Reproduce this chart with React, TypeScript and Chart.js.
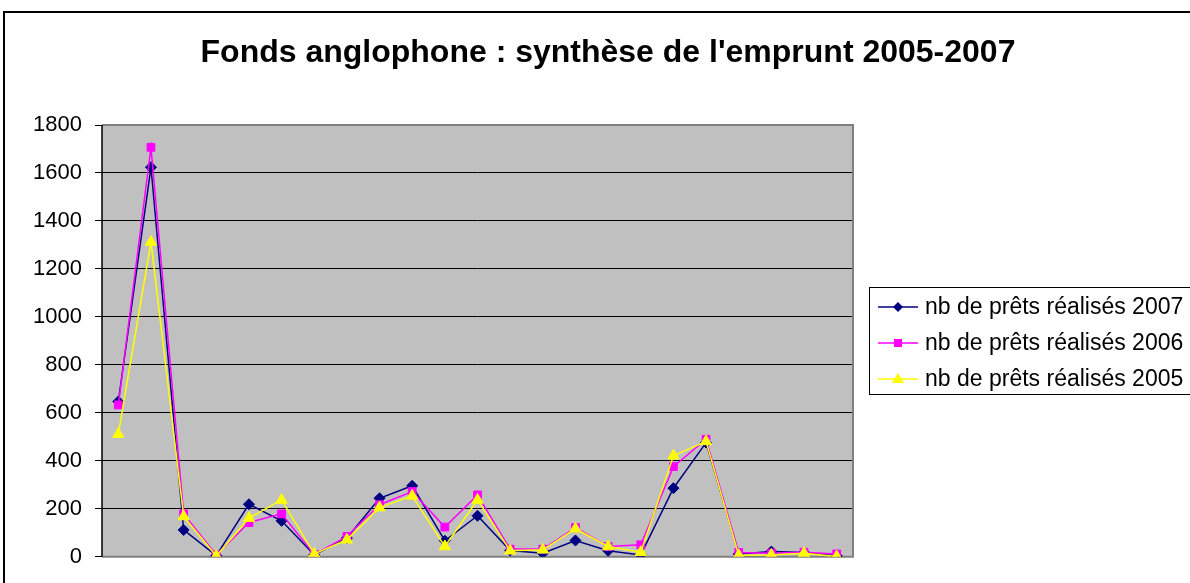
import React, { useEffect, useRef } from "react";
import { Chart, registerables } from "chart.js";

Chart.register(...registerables);

const TITLE = "Fonds anglophone : synthèse de l'emprunt 2005-2007";
const categories = Array.from({ length: 23 }, (_, i) => String(i + 1));
const labels2007 = "nb de prêts réalisés 2007";
const labels2006 = "nb de prêts réalisés 2006";
const labels2005 = "nb de prêts réalisés 2005";
const values2007 = [647, 1624, 112, 5, 219, 150, 8, 78, 244, 296, 67, 171, 26, 15, 68, 25, 8, 286, 476, 12, 22, 18, 4];
const values2006 = [633, 1707, 179, 8, 143, 179, 10, 85, 217, 272, 124, 258, 32, 32, 122, 43, 50, 376, 490, 18, 15, 19, 12];
const values2005 = [511, 1312, 168, 3, 161, 237, 12, 71, 205, 254, 43, 237, 25, 29, 117, 43, 19, 421, 481, 6, 8, 15, 1];
const yTicks = [0, 200, 400, 600, 800, 1000, 1200, 1400, 1600, 1800];

const FONT = "'Liberation Sans', Arial, sans-serif";

const decorPlugin = {
  id: "decor",
  beforeDraw(chart: any) {
    const { ctx, chartArea: a } = chart;
    ctx.save();
    ctx.fillStyle = "#ffffff";
    ctx.fillRect(0, 0, chart.width, chart.height);
    ctx.fillStyle = "#C0C0C0";
    ctx.fillRect(a.left, a.top, a.right - a.left, a.bottom - a.top);
    ctx.strokeStyle = "#000000";
    ctx.lineWidth = 2;
    ctx.strokeRect(4, 12, 1400, 800);
    ctx.restore();
  },
  beforeDatasetsDraw(chart: any) {
    const { ctx, chartArea: a } = chart;
    ctx.save();
    ctx.strokeStyle = "#808080";
    ctx.lineWidth = 2;
    ctx.beginPath();
    ctx.moveTo(a.left, a.top);
    ctx.lineTo(a.right, a.top);
    ctx.lineTo(a.right, a.bottom);
    ctx.lineTo(a.left, a.bottom);
    ctx.stroke();
    ctx.strokeStyle = "#000000";
    ctx.lineWidth = 1.5;
    ctx.beginPath();
    ctx.moveTo(a.left, a.top);
    ctx.lineTo(a.left, a.bottom);
    ctx.stroke();
    ctx.restore();
  },
  afterDraw(chart: any) {
    const { ctx } = chart;
    ctx.save();
    ctx.fillStyle = "#000";
    ctx.font = `bold 32px ${FONT}`;
    ctx.textAlign = "center";
    ctx.textBaseline = "middle";
    ctx.fillText(TITLE, 608, 53);
    ctx.strokeStyle = "#000";
    ctx.lineWidth = 1;
    ctx.strokeRect(869.5, 287.5, 400, 107);
    const ys = [307, 343, 379];
    chart.data.datasets.forEach((ds: any, i: number) => {
      const y = ys[i];
      ctx.strokeStyle = ds.borderColor;
      ctx.lineWidth = 1.5;
      ctx.beginPath();
      ctx.moveTo(878, y);
      ctx.lineTo(918, y);
      ctx.stroke();
      ctx.fillStyle = ds.backgroundColor;
      ctx.beginPath();
      if (ds.pointStyle === "rectRot") {
        ctx.moveTo(898, y - 5);
        ctx.lineTo(903, y);
        ctx.lineTo(898, y + 5);
        ctx.lineTo(893, y);
      } else if (ds.pointStyle === "rect") {
        ctx.rect(894, y - 4, 8, 8);
      } else {
        ctx.moveTo(898, y - 6);
        ctx.lineTo(904, y + 4);
        ctx.lineTo(892, y + 4);
      }
      ctx.closePath();
      ctx.fill();
      ctx.fillStyle = "#000";
      ctx.font = `23px ${FONT}`;
      ctx.textAlign = "left";
      ctx.textBaseline = "middle";
      ctx.fillText(ds.label, 925, y + 1);
    });
    ctx.restore();
  },
};

export default function App() {
  const ref = useRef<HTMLCanvasElement>(null);
  useEffect(() => {
    document.body.style.margin = "0";
    const chart = new Chart(ref.current!, {
      type: "line",
      data: {
        labels: categories,
        datasets: [
          {
            label: labels2007,
            data: values2007,
            borderColor: "#000080",
            backgroundColor: "#000080",
            pointStyle: "rectRot",
            pointRadius: 5.5,
            pointBorderWidth: 1,
            borderWidth: 1.5,
            order: 2,
          },
          {
            label: labels2006,
            data: values2006,
            borderColor: "#FF00FF",
            backgroundColor: "#FF00FF",
            pointStyle: "rect",
            pointRadius: 5.5,
            pointBorderWidth: 1,
            borderWidth: 1.5,
            order: 1,
          },
          {
            label: labels2005,
            data: values2005,
            borderColor: "#FFFF00",
            backgroundColor: "#FFFF00",
            pointStyle: "triangle",
            pointRadius: 6.5,
            pointBorderWidth: 1,
            borderWidth: 1.5,
            order: 0,
          },
        ] as any,
      },
      options: {
        animation: false,
        responsive: false,
        devicePixelRatio: 1,
        layout: { padding: { top: 125, right: 337, bottom: 26, left: 0 } },
        plugins: {
          legend: { display: false },
          title: { display: false },
          tooltip: { enabled: false },
        },
        scales: {
          x: {
            type: "category",
            offset: true,
            grid: { display: false, drawTicks: false },
            border: { display: false },
            ticks: { display: false },
            afterFit: (s: any) => {
              s.height = 0;
            },
          },
          y: {
            min: 0,
            max: 1800,
            afterBuildTicks: (s: any) => {
              s.ticks = yTicks.map((v) => ({ value: v }));
            },
            grid: {
              color: (c: any) =>
                c.tick && (c.tick.value === 0 || c.tick.value === 1800) ? "rgba(0,0,0,0)" : "#000000",
              tickColor: "#000000",
              tickLength: 7,
              lineWidth: 1,
            },
            border: { display: false },
            ticks: {
              color: "#000",
              padding: 13,
              font: { family: FONT, size: 22 },
              callback: (v: any) => String(v),
            },
            afterFit: (s: any) => {
              s.width = 102;
            },
          },
        },
      },
      plugins: [decorPlugin],
    });
    return () => chart.destroy();
  }, []);
  return (
    <div style={{ width: 1190, height: 583, overflow: "hidden" }}>
      <canvas ref={ref} width={1190} height={583} style={{ display: "block", width: 1190, height: 583 }} />
    </div>
  );
}
